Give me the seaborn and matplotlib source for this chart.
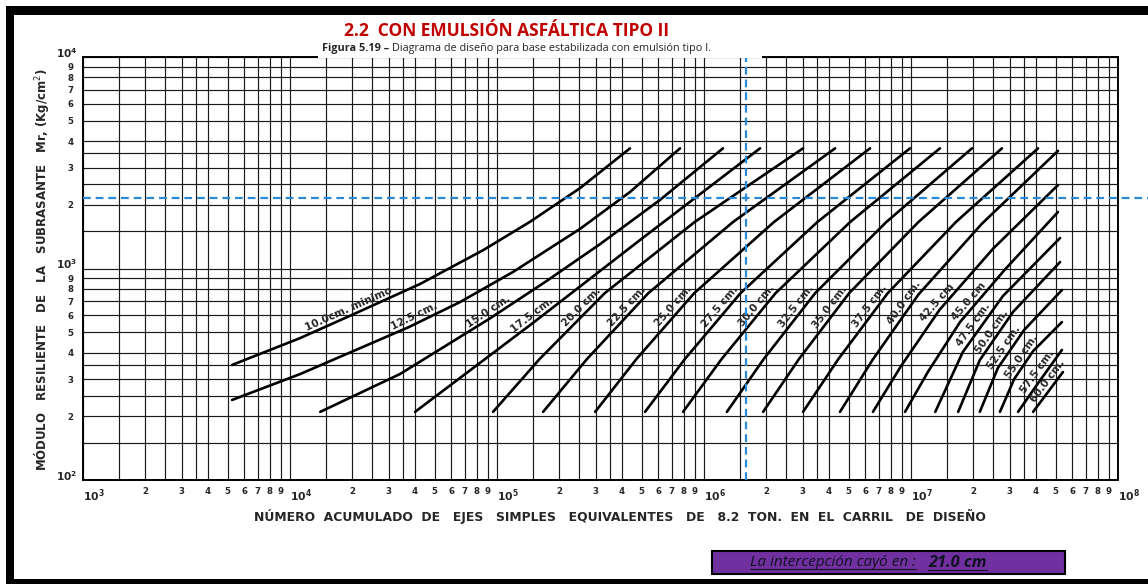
"""
Diagrama de diseño para base estabilizada con emulsión (carta log-log)
"""
import numpy as np
import pandas as pd

import matplotlib
matplotlib.use('Agg')
import matplotlib.pyplot as plt
from matplotlib.patches import Rectangle
from matplotlib.lines import Line2D
import seaborn as sns

# espesor de cada curva (cm) y su rótulo
ESPESOR = [10.0, 12.5, 15.0, 17.5, 20.0, 22.5, 25.0, 27.5, 30.0, 32.5, 35.0,
           37.5, 40.0, 42.5, 45.0, 47.5, 50.0, 52.5, 55.0, 57.5, 60.0]
ETIQUETA = ['10.0cm. minimo', '12.5 cm.', '15.0 cm.', '17.5 cm.', '20.0 cm.',
            '22.5 cm.', '25.0 cm.', '27.5 cm.', '30.0 cm.', '32.5 cm.',
            '35.0 cm.', '37.5 cm.', '40.0 cm.', '42.5 cm', '45.0 cm',
            '47.5 cm.', '50.0 cm.', '52.5 cm.', '55.0 cm.', '57.5 cm.',
            '60.0 cm.']

# ejes equivalentes acumulados (x) leidos sobre cada curva
ESAL = [
    [5.25e3, 1.12e4, 1.99e4, 4.25e4, 8.56e4, 1.44e5, 2.52e5, 4.39e5],
    [5.25e3, 1.12e4, 3.76e4, 6.63e4, 1.195e5, 2.52e5, 4.39e5, 7.66e5],
    [1.40e4, 3.40e4, 9.15e4, 1.71e5, 3.15e5, 6.13e5, 1.235e6],
    [4.02e4, 1.51e5, 4.91e5, 1.865e6],
    [9.57e4, 1.605e5, 3.313e5, 9.00e5, 3.01e6],
    [1.67e5, 2.719e5, 5.378e5, 1.379e6, 4.30e6],
    [2.98e5, 4.715e5, 8.96e5, 2.175e6, 6.34e6],
    [5.19e5, 8.08e5, 1.50e6, 3.526e6, 9.89e6],
    [7.92e5, 1.216e6, 2.215e6, 5.076e6, 1.38e7],
    [1.29e6, 1.942e6, 3.442e6, 7.59e6, 1.97e7],
    [1.93e6, 2.875e6, 5.023e6, 1.085e7, 2.75e7],
    [3.01e6, 4.457e6, 7.716e6, 1.646e7, 4.11e7],
    [4.54e6, 6.533e6, 1.087e7, 2.196e7, 5.13e7],
    [6.55e6, 8.92e6, 1.374e7, 2.496e7, 5.13e7],
    [9.36e6, 1.208e7, 1.727e7, 2.828e7, 5.13e7],
    [1.31e7, 1.78e7, 2.78e7, 5.25e7],
    [1.69e7, 2.15e7, 3.11e7, 5.25e7],
    [2.15e7, 2.63e7, 3.52e7, 5.36e7],
    [2.69e7, 3.15e7, 3.89e7, 5.36e7],
    [3.29e7, 4.11e7, 5.36e7],
    [3.89e7, 5.42e7],
]
# modulo resiliente de la subrasante (kg/cm2) en esos mismos puntos
MR = [
    [350, 469, 603, 845, 1220, 1660, 2400, 3700],
    [239, 317, 529, 694, 963, 1540, 2300, 3700],
    [210, 317, 577, 864, 1305, 2110, 3700],
    [210, 558, 1364, 3700],
    [210, 373, 764, 1657, 3700],
    [210, 373, 764, 1657, 3700],
    [210, 373, 764, 1657, 3700],
    [210, 373, 764, 1657, 3700],
    [210, 373, 764, 1657, 3700],
    [210, 373, 764, 1657, 3700],
    [210, 373, 764, 1657, 3700],
    [210, 373, 764, 1657, 3700],
    [210, 371, 754, 1625, 3600],
    [210, 344, 638, 1243, 2480],
    [210, 325, 559, 983, 1850],
    [210, 403, 741, 1394],
    [210, 369, 623, 1073],
    [210, 339, 512, 791],
    [210, 300, 407, 558],
    [210, 287, 412],
    [210, 324],
]
# Mr donde va escrito el rotulo de cada curva
MR_ETIQUETA = [603, 553, 590, 570, 623, 630, 630, 630, 635, 635, 625, 635,
               658, 658, 665, 517, 485, 407, 369, 310, 281]

# lectura de diseno
ESAL_DISENO = 1.6e6
MR_DISENO = 2150
RESULTADO = '21.0 cm'

# lineas de reticula dentro de cada decada
RETICULA = [1.5, 2, 2.5, 3, 3.5, 4, 5, 6, 7, 8, 9]

AZUL = '#2b8ad6'
W, H = 1148, 584


def fx(px):
    return px / W


def fy(py):
    return 1 - py / H


def main():
    sns.set_style('white')
    plt.rcParams['font.family'] = ['DejaVu Sans']

    fig = plt.figure(figsize=(W / 100, H / 100), dpi=100)
    L, R, T, B = 83, 1118, 57, 480
    ax = fig.add_axes([fx(L), fy(B), (R - L) / W, (B - T) / H])

    rows = []
    for esp, xs, ys in zip(ESPESOR, ESAL, MR):
        for x, y in zip(xs, ys):
            rows.append({'espesor': esp, 'esal': x, 'mr': y})
    df = pd.DataFrame(rows)

    sns.lineplot(data=df, x='esal', y='mr', units='espesor', estimator=None,
                 sort=False, color='black', lw=1.9, legend=False, ax=ax,
                 solid_joinstyle='round', zorder=3)
    ax.set_xscale('log')
    ax.set_yscale('log')
    ax.set_xlim(1e3, 1e8)
    ax.set_ylim(1e2, 1e4)
    ax.set_xlabel('')
    ax.set_ylabel('')

    # ticks: decadas con 10^n, reticula intermedia con digitos
    xmaj = [10 ** e for e in range(3, 9)]
    ymaj = [10 ** e for e in range(2, 5)]
    xmin = [m * 10 ** e for e in range(3, 8) for m in RETICULA]
    ymin = [m * 10 ** e for e in range(2, 4) for m in RETICULA]
    lab = lambda m: str(int(m)) if float(m).is_integer() else ''
    ax.set_xticks(xmaj)
    ax.set_xticklabels([r'$\mathbf{10^{%d}}$' % e for e in range(3, 9)])
    ax.set_xticks(xmin, minor=True)
    ax.set_xticklabels([lab(m) for e in range(3, 8) for m in RETICULA], minor=True)
    ax.set_yticks(ymaj)
    ax.set_yticklabels([''] * len(ymaj))
    ax.set_yticks(ymin, minor=True)
    ax.set_yticklabels([lab(m) for e in range(2, 4) for m in RETICULA], minor=True)
    ax.tick_params(which='both', length=0, labelsize=6.2)
    ax.tick_params(axis='x', which='both', pad=5)
    ax.tick_params(axis='y', which='both', pad=7)
    for t in ax.get_xticklabels(which='both') + ax.get_yticklabels(which='both'):
        t.set_fontweight('bold')
    for t in ax.get_xticklabels():
        t.set_ha('left')
        t.set_fontsize(7.8)
    # decadas del eje y, algo por encima de su linea para no pisar el 9
    for e in range(2, 5):
        ax.annotate(r'$\mathbf{10^{%d}}$' % e, (0, 10 ** e),
                    xycoords=('axes fraction', 'data'), xytext=(-4, 3),
                    textcoords='offset points', ha='right', va='center',
                    fontsize=7.6)

    ax.grid(which='both', color='#1a1a1a', lw=0.85)
    for s in ax.spines.values():
        s.set_color('black')
        s.set_linewidth(1.4)

    # rotulos de espesor sobre las curvas
    for xs, ys, txt, m in zip(ESAL, MR, ETIQUETA, MR_ETIQUETA):
        lx, ly = np.log10(xs), np.log10(ys)
        xm = 10 ** np.interp(np.log10(m), ly, lx)
        i = int(np.clip(np.searchsorted(ly, np.log10(m)), 1, len(ly) - 1))
        p0 = ax.transData.transform((xs[i - 1], ys[i - 1]))
        p1 = ax.transData.transform((xs[i], ys[i]))
        ang = np.arctan2(p1[1] - p0[1], p1[0] - p0[0])
        off = 5
        ax.annotate(txt, (xm, m), xytext=(-off * np.sin(ang), off * np.cos(ang)),
                    textcoords='offset points', rotation=np.degrees(ang),
                    rotation_mode='anchor', ha='center', va='center',
                    fontsize=7.5, fontweight='bold', zorder=4)

    # lineas de lectura
    ax.axvline(ESAL_DISENO, color=AZUL, lw=1.6, dashes=(3.5, 2.2), zorder=5)
    ax.axhline(MR_DISENO, xmin=0, xmax=(W - L) / (R - L), clip_on=False,
               color=AZUL, lw=1.6, dashes=(3.5, 2.2), zorder=5)

    # titulos
    fig.text(fx(507), fy(31), '2.2  CON EMULSIÓN ASFÁLTICA TIPO II',
             color='#c00000', family='Open Sans', weight='bold', size=12.5,
             ha='center', va='center')
    fig.add_artist(Rectangle((fx(318), fy(58)), fx(762) - fx(318), fy(40) - fy(58),
                             transform=fig.transFigure, facecolor='white',
                             edgecolor='none', zorder=1))
    t1 = fig.text(fx(322), fy(48), 'Figura 5.19 –', family='Open Sans',
                  weight='bold', size=7.8, ha='left', va='center', zorder=2)
    fig.canvas.draw()
    bb = t1.get_window_extent()
    fig.text((bb.x1 + 3) / W, fy(48),
             'Diagrama de diseño para base estabilizada con emulsión tipo I.',
             family='Open Sans', size=7.8, ha='left', va='center', zorder=2)

    fig.text(fx(620), fy(517),
             'NÚMERO  ACUMULADO  DE   EJES   SIMPLES   EQUIVALENTES   DE   '
             '8.2  TON.  EN  EL  CARRIL   DE  DISEÑO',
             weight='bold', size=8.9, ha='center', va='center')
    fig.text(fx(42), fy(270),
             'MÓDULO   RESILIENTE   DE   LA   SUBRASANTE   Mr, (Kg/cm$^2$)',
             weight='bold', size=8.5, ha='center', va='center', rotation=90)

    # recuadro del resultado
    fig.add_artist(Rectangle((fx(712), fy(574)), fx(1065) - fx(712), fy(551) - fy(574),
                             transform=fig.transFigure, facecolor='#7030a0',
                             edgecolor='black', lw=1.5, zorder=2))
    r1 = fig.text(fx(750), fy(563), 'La intercepción cayó en :', family='Open Sans',
                  style='italic', size=11, color='#111122', ha='left',
                  va='center', zorder=3)
    r2 = fig.text(fx(928), fy(563), RESULTADO, family='Open Sans', style='italic',
                  weight='bold', size=11.8, color='#111122', ha='left',
                  va='center', zorder=3)
    fig.canvas.draw()
    for t in (r1, r2):
        e = t.get_window_extent()
        fig.add_artist(Line2D([e.x0 / W, e.x1 / W], [(e.y0 + 1.5) / H] * 2,
                              transform=fig.transFigure, color='#111122',
                              lw=0.8, zorder=3))

    # marco negro del recorte
    for x0, y0, x1, y1 in [(6, 6, W, 15), (6, 6, 14, H), (6, 579, W, H)]:
        fig.add_artist(Rectangle((fx(x0), fy(y1)), fx(x1) - fx(x0), fy(y0) - fy(y1),
                                 transform=fig.transFigure, facecolor='black',
                                 edgecolor='none', zorder=10))

    fig.savefig('out.png', dpi=100)
    plt.close(fig)


if __name__ == '__main__':
    main()
